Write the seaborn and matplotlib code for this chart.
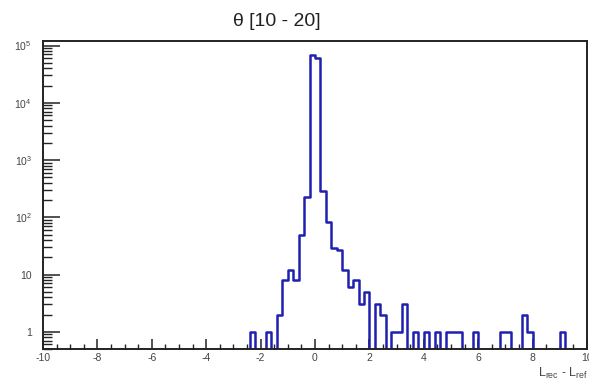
import numpy as np
import pandas as pd
import matplotlib
matplotlib.use("Agg")
import matplotlib.pyplot as plt
from matplotlib.ticker import MultipleLocator, LogLocator, FixedLocator, FuncFormatter
import seaborn as sns

# Histogram contents: lower edge of each filled bin (bin width 0.2) and its count
bin_low = [-2.4, -1.8, -1.4, -1.2, -1.0, -0.8, -0.6, -0.4, -0.2, 0.0,
           0.2, 0.4, 0.6, 0.8, 1.0, 1.2, 1.4, 1.6, 1.8, 2.2,
           2.4, 2.8, 3.0, 3.2, 3.6, 4.0, 4.4, 4.8, 5.0, 5.2,
           5.8, 6.8, 7.0, 7.6, 7.8, 9.0]
counts = [1, 1, 2, 8, 12, 8, 50, 230, 67000, 61000,
          290, 84, 29, 27, 12, 6, 8, 3, 5, 3,
          2, 1, 1, 3, 1, 1, 1, 1, 1, 1,
          1, 1, 1, 2, 1, 1]

title = "θ [10 - 20]"
xlabel = "L$_{rec}$ - L$_{ref}$"
x_range = (-10, 10)
bin_width = 0.2

sns.set_style("white")
plt.rcParams["font.family"] = ["Liberation Sans", "DejaVu Sans"]
plt.rcParams["mathtext.fontset"] = "custom"
plt.rcParams["mathtext.rm"] = "Liberation Sans"
plt.rcParams["mathtext.it"] = "Liberation Sans"

df = pd.DataFrame({"x": np.array(bin_low) + bin_width / 2, "w": counts})

fig = plt.figure(figsize=(5.89, 3.81), dpi=100)
ax = fig.add_axes([43 / 589, 1 - 349 / 381, 544 / 589, 308 / 381])

sns.histplot(data=df, x="x", weights="w", binwidth=bin_width, binrange=x_range,
             element="step", fill=False, color="#2020b0", linewidth=1.8, ax=ax)

ax.set_yscale("log")
ax.set_xlim(*x_range)
ax.set_ylim(0.5, 1.2e5)

for side in ["top", "right", "left", "bottom"]:
    ax.spines[side].set_visible(True)
    ax.spines[side].set_color("#222222")
    ax.spines[side].set_linewidth(1.4)

ax.xaxis.set_major_locator(MultipleLocator(2))
ax.xaxis.set_minor_locator(MultipleLocator(0.5))
ax.yaxis.set_major_locator(FixedLocator([1, 10, 100, 1e3, 1e4, 1e5]))
ax.yaxis.set_minor_locator(LogLocator(base=10, subs=np.arange(2, 10)))


def ylab(v, pos):
    if v == 1:
        return "1"
    if v == 10:
        return "10"
    return "10$^{%d}$" % int(round(np.log10(v)))


ax.yaxis.set_major_formatter(FuncFormatter(ylab))
ax.xaxis.set_major_formatter(FuncFormatter(lambda v, p: "%d" % v))

ax.tick_params(axis="x", which="major", direction="in", length=7, width=1.1,
               color="#222222", labelsize=7.5, labelcolor="#444444", pad=3,
               bottom=True, top=False)
ax.tick_params(axis="x", which="minor", direction="in", length=3.5, width=1.0,
               color="#222222", bottom=True, top=False)
ax.tick_params(axis="y", which="major", direction="in", length=12, width=1.1,
               color="#222222", labelsize=7.5, labelcolor="#444444", pad=8,
               left=True, right=False)
ax.tick_params(axis="y", which="minor", direction="in", length=6.5, width=1.0,
               color="#222222", left=True, right=False)

ax.set_xlabel("")
ax.set_ylabel("")

fig.text(277 / 589, 1 - 22 / 381, title, ha="center", va="center",
         fontsize=14, color="#222222")
fig.text(538 / 589, 1 - 373 / 381, xlabel, ha="left", va="center",
         fontsize=9, color="#444444")

fig.savefig("out.png", dpi=100, facecolor="white")
